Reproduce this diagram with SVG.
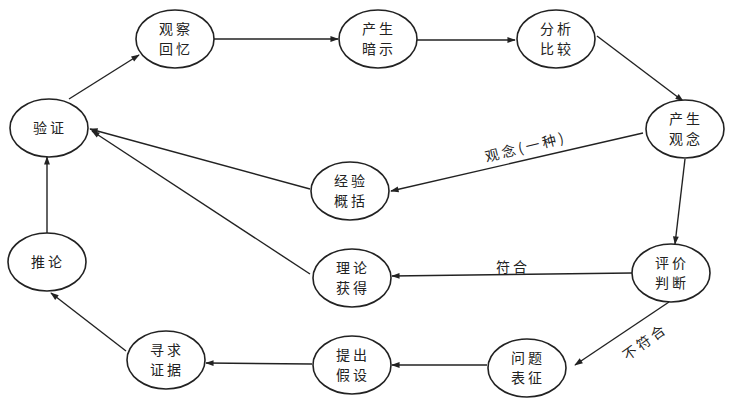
<svg xmlns="http://www.w3.org/2000/svg" width="731" height="411" viewBox="0 0 731 411">
<style>
.n ellipse{fill:#fff;stroke:#222;stroke-width:1.6}
.n text,.l{font-family:"Noto Sans CJK SC",sans-serif;font-size:14px;fill:#222;text-anchor:middle;letter-spacing:3px}
.c line{stroke:#222;stroke-width:1.4;marker-end:url(#a)}
</style>
<defs><marker id="a" viewBox="0 0 10 10" refX="9" refY="5" markerWidth="8" markerHeight="6" orient="auto"><path d="M0,1.5 L10,5 L0,8.5 z" fill="#222"/></marker></defs>
<rect width="731" height="411" fill="#fff"/>
<g class="c">
<line x1="69" y1="99" x2="139" y2="55"/>
<line x1="214" y1="39" x2="338" y2="39"/>
<line x1="417" y1="40" x2="515" y2="40"/>
<line x1="597" y1="36" x2="683" y2="101"/>
<line x1="643" y1="133" x2="391" y2="191"/>
<line x1="310" y1="189" x2="90" y2="129"/>
<line x1="310" y1="274" x2="92" y2="131"/>
<line x1="685" y1="159" x2="675" y2="244"/>
<line x1="632" y1="273" x2="392" y2="276"/>
<line x1="669" y1="302" x2="575" y2="365"/>
<line x1="487" y1="365" x2="392" y2="365"/>
<line x1="312" y1="364" x2="206" y2="363"/>
<line x1="126" y1="351" x2="51" y2="293"/>
<line x1="47" y1="234" x2="47" y2="157"/>
</g>
<text class="l" transform="translate(527,152) rotate(-14)">观念(一种)</text>
<text class="l" x="513" y="272">符合</text>
<text class="l" transform="translate(648,346) rotate(-36)">不符合</text>
<g class="n" id="n1"><ellipse cx="49" cy="128" rx="39" ry="29"/><text x="50" y="133">验证</text></g>
<g class="n" id="n2"><ellipse cx="175" cy="39" rx="39" ry="29"/><text x="176" y="34">观察</text><text x="176" y="54">回忆</text></g>
<g class="n" id="n3"><ellipse cx="378" cy="39" rx="39" ry="29"/><text x="379" y="34">产生</text><text x="379" y="54">暗示</text></g>
<g class="n" id="n4"><ellipse cx="556" cy="39" rx="39" ry="29"/><text x="557" y="34">分析</text><text x="557" y="54">比较</text></g>
<g class="n" id="n5"><ellipse cx="685" cy="129" rx="39" ry="29"/><text x="686" y="124">产生</text><text x="686" y="144">观念</text></g>
<g class="n" id="n6"><ellipse cx="350" cy="191" rx="39" ry="29"/><text x="351" y="186">经验</text><text x="351" y="206">概括</text></g>
<g class="n" id="n7"><ellipse cx="47" cy="262" rx="39" ry="29"/><text x="48" y="267">推论</text></g>
<g class="n" id="n8"><ellipse cx="352" cy="278" rx="39" ry="29"/><text x="353" y="273">理论</text><text x="353" y="293">获得</text></g>
<g class="n" id="n9"><ellipse cx="671" cy="273" rx="39" ry="29"/><text x="672" y="268">评价</text><text x="672" y="288">判断</text></g>
<g class="n" id="n10"><ellipse cx="166" cy="360" rx="39" ry="29"/><text x="167" y="355">寻求</text><text x="167" y="375">证据</text></g>
<g class="n" id="n11"><ellipse cx="352" cy="365" rx="39" ry="29"/><text x="353" y="360">提出</text><text x="353" y="380">假设</text></g>
<g class="n" id="n12"><ellipse cx="527" cy="368" rx="39" ry="29"/><text x="528" y="363">问题</text><text x="528" y="383">表征</text></g>
</svg>
